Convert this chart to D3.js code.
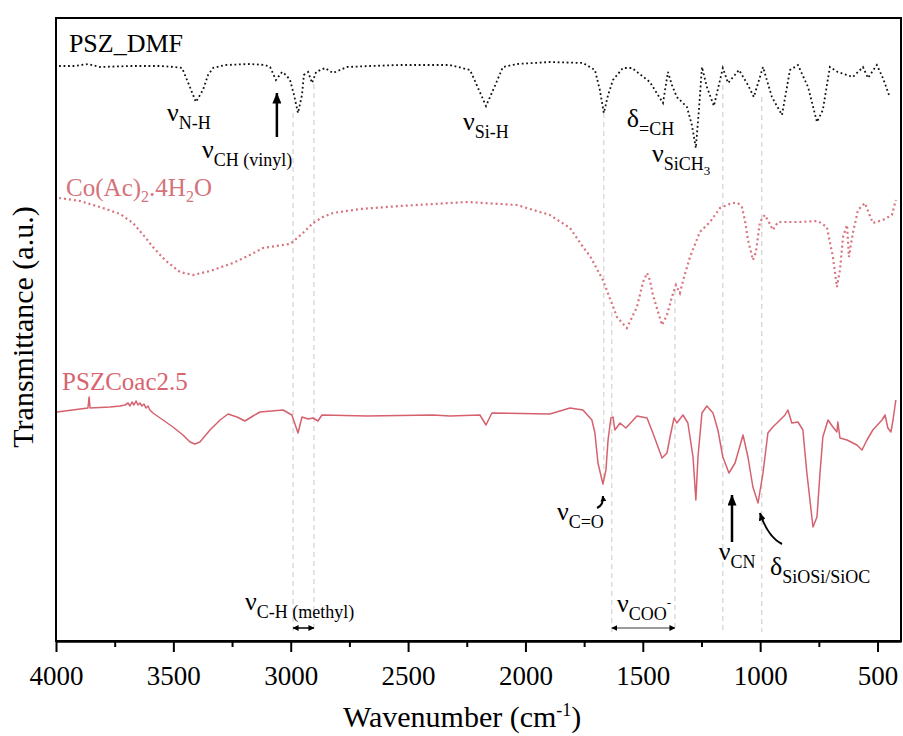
<!DOCTYPE html>
<html>
<head>
<meta charset="utf-8">
<script src="https://cdn.jsdelivr.net/npm/d3@7"></script>
<style>
  body { margin: 0; background: #fff; }
  svg text { font-family: "Liberation Serif", "Times New Roman", serif; }
</style>
</head>
<body>
<script>
// spectra: [wavenumber cm-1, transmittance a.u.]
const pszDmf = [
  [3987, 115.0], [3919, 115.0], [3864, 115.4], [3813, 114.8], [3685, 115.0], [3557, 115.0],
  [3493, 114.8], [3463, 114.6], [3433, 111.2], [3404, 107.8], [3374, 110.2], [3352, 113.2],
  [3331, 114.6], [3280, 115.2], [3174, 115.4], [3110, 115.2], [3088, 114.8], [3063, 112.2],
  [3037, 113.8], [3020, 113.2], [3003, 112.2], [2986, 109.2], [2969, 105.6], [2952, 109.2],
  [2944, 113.2], [2926, 113.8], [2909, 111.6], [2892, 113.8], [2854, 114.6], [2820, 113.6],
  [2790, 114.2], [2760, 114.8], [2662, 115.0], [2535, 115.2], [2428, 115.2], [2322, 115.2],
  [2236, 114.2], [2202, 110.6], [2168, 107.0], [2134, 110.6], [2096, 114.8], [2036, 115.4],
  [1896, 115.8], [1755, 115.6], [1704, 114.2], [1683, 110.2], [1666, 105.6], [1648, 109.2],
  [1627, 112.2], [1585, 114.6], [1546, 114.6], [1470, 111.8], [1414, 107.6], [1393, 113.8],
  [1376, 111.2], [1355, 108.8], [1312, 106.8], [1291, 103.2], [1274, 98.6], [1261, 106.2],
  [1248, 114.8], [1227, 110.8], [1197, 107.0], [1159, 114.6], [1137, 111.6], [1090, 114.2],
  [1052, 111.2], [1027, 108.8], [988, 114.8], [950, 108.8], [907, 105.2], [873, 114.2],
  [839, 115.2], [796, 110.8], [758, 103.8], [733, 106.2], [703, 114.8], [669, 113.8],
  [605, 112.8], [562, 114.8], [541, 112.6], [503, 115.2], [477, 112.6], [451, 109.2]
]

const coAc = [
  [3987, 88.6], [3898, 88.0], [3813, 86.8], [3727, 85.4], [3672, 83.6], [3621, 80.8],
  [3587, 78.8], [3536, 76.2], [3472, 73.8], [3416, 73.2], [3344, 74.0], [3246, 75.6],
  [3174, 77.2], [3118, 78.6], [3033, 79.2], [3003, 79.4], [2982, 80.2], [2948, 81.6],
  [2905, 83.6], [2863, 84.8], [2820, 85.6], [2705, 86.4], [2535, 87.0], [2322, 87.6],
  [2249, 87.8], [2036, 87.2], [1896, 85.2], [1810, 82.6], [1755, 78.8], [1725, 77.0],
  [1670, 72.2], [1610, 64.8], [1568, 62.6], [1525, 66.8], [1499, 71.8], [1482, 73.6],
  [1470, 72.2], [1457, 69.2], [1418, 63.2], [1397, 65.2], [1376, 68.8], [1359, 71.2],
  [1342, 69.6], [1329, 72.0], [1299, 76.8], [1257, 81.8], [1214, 83.8], [1171, 86.6],
  [1120, 87.6], [1095, 87.6], [1078, 86.8], [1065, 84.2], [1052, 80.2], [1039, 77.8],
  [1031, 76.2], [1018, 77.8], [1001, 83.8], [980, 85.2], [963, 83.8], [946, 82.2],
  [924, 83.8], [831, 83.8], [754, 84.0], [716, 82.8], [690, 76.8], [673, 70.8],
  [660, 74.2], [647, 80.8], [630, 83.2], [622, 76.8], [605, 81.6], [583, 86.2],
  [554, 87.6], [520, 83.6], [477, 84.2], [439, 85.2], [422, 88.2]
]

const pszCoac = [
  [3996, 45.8], [3864, 46.6], [3859, 48.8], [3855, 46.6], [3770, 46.8], [3727, 47.0],
  [3706, 47.2], [3693, 47.6], [3685, 47.0], [3676, 47.8], [3668, 47.2], [3659, 48.0],
  [3651, 47.2], [3642, 47.6], [3634, 47.0], [3625, 47.4], [3617, 46.6], [3608, 47.0],
  [3600, 46.2], [3587, 45.6], [3544, 44.2], [3502, 42.8], [3459, 41.2], [3429, 39.8],
  [3408, 39.4], [3387, 39.8], [3344, 42.2], [3301, 44.2], [3267, 45.4], [3229, 44.8],
  [3195, 44.0], [3161, 45.0], [3131, 45.8], [3033, 46.2], [2995, 45.2], [2969, 41.6],
  [2952, 44.8], [2926, 44.4], [2905, 44.6], [2884, 44.0], [2867, 45.2], [2675, 45.0],
  [2394, 45.2], [2322, 45.0], [2194, 45.2], [2168, 43.2], [2143, 45.6], [1896, 45.4],
  [1810, 46.6], [1755, 46.2], [1717, 44.2], [1704, 41.6], [1691, 35.6], [1670, 31.4],
  [1657, 34.2], [1648, 40.2], [1636, 44.6], [1627, 44.8], [1619, 42.2], [1597, 43.6],
  [1572, 42.6], [1525, 45.0], [1482, 44.6], [1457, 41.6], [1418, 36.6], [1397, 37.6],
  [1384, 40.8], [1367, 44.6], [1355, 43.6], [1329, 45.2], [1308, 43.6], [1286, 36.8],
  [1274, 28.2], [1265, 36.8], [1248, 45.6], [1227, 47.0], [1201, 45.6], [1180, 42.2],
  [1159, 36.8], [1133, 33.6], [1107, 35.6], [1073, 41.2], [1052, 36.8], [1031, 30.8],
  [1009, 27.6], [988, 33.6], [967, 41.6], [946, 42.8], [924, 43.8], [894, 45.2],
  [882, 46.2], [865, 43.6], [839, 43.8], [818, 42.2], [801, 33.6], [775, 22.8],
  [758, 24.8], [745, 33.6], [733, 40.8], [711, 44.2], [690, 42.8], [673, 41.8],
  [669, 43.8], [660, 40.6], [630, 40.2], [588, 39.2], [566, 38.2], [545, 40.2],
  [520, 42.2], [481, 44.2], [468, 45.2], [456, 42.6], [443, 41.8], [434, 44.2], [422, 48.2]
]

const majorTicks = [4000, 3500, 3000, 2500, 2000, 1500, 1000, 500]
const minorTicks = [3750, 3250, 2750, 2250, 1750, 1250, 750]

// dashed guide lines: wavenumber, top and bottom in a.u.
const guideWn = [2990, 2901, 1666, 1632, 1363, 1159, 993]
const guideTop = [105.6, 111.4, 105.6, 65.8, 70.2, 111.2, 108.8]
const guideBottom = [1.8, 1.8, 31.8, 1.8, 1.8, 1.8, 1.8]

// band labels
const noteSym = ["ν", "ν", "ν", "δ", "ν", "ν", "ν", "δ", "ν", "ν"]
const noteSub = ["N-H", "CH (vinyl)", "Si-H", "=CH", "SiCH", "C=O", "CN", "SiOSi/SiOC", "C-H (methyl)", "COO"]
const noteWn = [3527, 3378, 2266, 1568, 1461, 1866, 1176, 958, 3195, 1610]
const noteT = [104.0, 96.6, 102.2, 102.8, 95.8, 24.2, 16.2, 13.2, 6.2, 5.8]

let width = 903
let height = 736
let margin = { top: 18, right: 2, bottom: 95, left: 56 }

const dotPink = "#d9737d"
const solidPink = "#d6616e"

const svg = d3.select("body")
  .append("svg")
  .attr("width", width)
  .attr("height", height)

const x = d3.scaleLinear()
  .domain([4000, 400])
  .range([margin.left, width - margin.right])

const y = d3.scaleLinear()
  .domain([0, 124.6])
  .range([height - margin.bottom, margin.top])

const defs = svg.append("defs")
function marker(id, w, h, color) {
  defs.append("marker")
    .attr("id", id)
    .attr("viewBox", `0 0 ${w} ${h}`)
    .attr("refX", w - 0.5).attr("refY", h / 2)
    .attr("markerWidth", w).attr("markerHeight", h)
    .attr("markerUnits", "userSpaceOnUse")
    .attr("orient", "auto-start-reverse")
    .append("path")
    .attr("d", `M0,0 L${w},${h / 2} L0,${h} Z`)
    .attr("fill", color)
}
marker("big", 11, 9, "#000")
marker("mid", 8, 7, "#000")
marker("small", 6, 6, "#000")

// dashed guides
svg.append("g")
  .selectAll("line")
  .data(guideWn)
  .join("line")
  .attr("x1", d => x(d)).attr("x2", d => x(d))
  .attr("y1", (d, i) => y(guideTop[i]))
  .attr("y2", (d, i) => y(guideBottom[i]))
  .attr("stroke", "#c9c9c9")
  .attr("stroke-width", 1)
  .attr("stroke-dasharray", "5,4")

const line = d3.line().x(d => x(d[0])).y(d => y(d[1]))

svg.append("path").datum(pszDmf)
  .attr("d", line).attr("fill", "none")
  .attr("stroke", "#111").attr("stroke-width", 1.8)
  .attr("stroke-dasharray", "1.8,2.7")

svg.append("path").datum(coAc)
  .attr("d", line).attr("fill", "none")
  .attr("stroke", dotPink).attr("stroke-width", 2.2)
  .attr("stroke-dasharray", "2,3")

svg.append("path").datum(pszCoac)
  .attr("d", line).attr("fill", "none")
  .attr("stroke", solidPink).attr("stroke-width", 1.5)
  .attr("stroke-linejoin", "round")

// frame
svg.append("rect")
  .attr("x", x(4000)).attr("y", y(124.6))
  .attr("width", x(400) - x(4000)).attr("height", y(0) - y(124.6))
  .attr("fill", "none").attr("stroke", "#000").attr("stroke-width", 2)

// x axis
const axis = svg.append("g")
  .attr("transform", `translate(0,${y(0)})`)
  .call(d3.axisBottom(x).tickValues(majorTicks).tickSize(11).tickSizeOuter(0)
    .tickPadding(14).tickFormat(d3.format("d")))
  .attr("font-family", null).attr("font-size", null)
axis.select(".domain").attr("stroke-width", 2.5)
axis.selectAll(".tick line").attr("stroke-width", 2)
axis.selectAll(".tick text").attr("font-size", 27).attr("fill", "#000")

const minor = svg.append("g")
  .attr("transform", `translate(0,${y(0)})`)
  .call(d3.axisBottom(x).tickValues(minorTicks).tickSize(6).tickFormat(""))
minor.select(".domain").remove()
minor.selectAll(".tick line").attr("stroke-width", 2)

// axis titles
const xt = svg.append("text")
  .attr("x", 343).attr("y", 727)
  .attr("font-size", 30)
xt.append("tspan").text("Wavenumber (cm")
xt.append("tspan").attr("font-size", 18).attr("dy", -11).text("-1")
xt.append("tspan").attr("dy", 11).text(")")

svg.append("text")
  .attr("transform", "translate(33,327) rotate(-90)")
  .attr("text-anchor", "middle")
  .attr("font-size", 30)
  .text("Transmittance (a.u.)")

// series labels
svg.append("text")
  .attr("x", x(3945)).attr("y", y(117.8))
  .attr("font-size", 26).attr("fill", "#000")
  .text("PSZ_DMF")

const co = svg.append("text")
  .attr("x", x(3957)).attr("y", y(89.0))
  .attr("font-size", 25).attr("fill", "#d4737b")
co.append("tspan").text("Co(Ac)")
co.append("tspan").attr("font-size", 16).attr("dy", 6).text("2")
co.append("tspan").attr("dy", -6).text(".4H")
co.append("tspan").attr("font-size", 16).attr("dy", 6).text("2")
co.append("tspan").attr("dy", -6).text("O")

svg.append("text")
  .attr("x", x(3974)).attr("y", y(50.2))
  .attr("font-size", 25).attr("fill", "#d9646f")
  .text("PSZCoac2.5")

// band notes
noteSym.forEach((s, i) => {
  const t = svg.append("text")
    .attr("x", x(noteWn[i])).attr("y", y(noteT[i]))
    .attr("font-size", 26).attr("fill", "#000")
  t.append("tspan").text(s)
  t.append("tspan").attr("font-size", 18).attr("dy", 8).text(noteSub[i])
  if (noteSub[i] === "SiCH") t.append("tspan").attr("font-size", 13).attr("dy", 5).text("3")
  if (noteSub[i] === "COO") t.append("tspan").attr("font-size", 13).attr("dy", -13).text("-")
})

// arrows
svg.append("line")
  .attr("x1", x(3059)).attr("x2", x(3059))
  .attr("y1", y(100.8)).attr("y2", y(109.6))
  .attr("stroke", "#000").attr("stroke-width", 2.5)
  .attr("marker-end", "url(#big)")

svg.append("line")
  .attr("x1", x(1120)).attr("x2", x(1120))
  .attr("y1", y(19.8)).attr("y2", y(29.2))
  .attr("stroke", "#000").attr("stroke-width", 2.5)
  .attr("marker-end", "url(#big)")

svg.append("path")
  .attr("d", `M${x(1695)},${y(26.6)} Q${x(1666)},${y(27.2)} ${x(1670)},${y(29.0)}`)
  .attr("fill", "none").attr("stroke", "#000").attr("stroke-width", 2)
  .attr("marker-end", "url(#small)")

svg.append("path")
  .attr("d", `M${x(907)},${y(19.4)} Q${x(967)},${y(20.8)} ${x(1001)},${y(25.6)}`)
  .attr("fill", "none").attr("stroke", "#000").attr("stroke-width", 2)
  .attr("marker-end", "url(#mid)")

svg.append("line")
  .attr("x1", x(2990)).attr("x2", x(2901))
  .attr("y1", y(2.6)).attr("y2", y(2.6))
  .attr("stroke", "#000").attr("stroke-width", 1.5)
  .attr("marker-start", "url(#small)").attr("marker-end", "url(#small)")

svg.append("line")
  .attr("x1", x(1632)).attr("x2", x(1363))
  .attr("y1", y(2.6)).attr("y2", y(2.6))
  .attr("stroke", "#9a9a9a").attr("stroke-width", 2)
  .attr("marker-start", "url(#small)").attr("marker-end", "url(#small)")
</script>
</body>
</html>
